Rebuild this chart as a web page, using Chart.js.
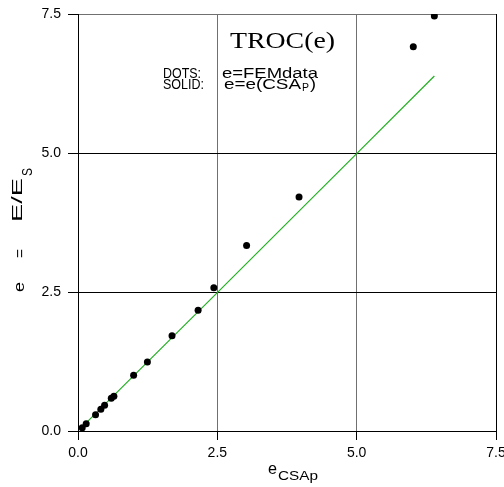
<!DOCTYPE html>
<html>
<head>
<meta charset="utf-8">
<script src="https://cdn.jsdelivr.net/npm/chart.js@4.4.1/dist/chart.umd.min.js"></script>
<style>
  html, body { margin: 0; padding: 0; background: #fff; }
  #wrap { width: 504px; height: 487px; }
</style>
</head>
<body>
<div id="wrap"><canvas id="trocChart"></canvas></div>
<script>
// FEM data points (dots)
const femX = [0.076, 0.147, 0.315, 0.41, 0.477, 0.597, 0.644, 0.998, 1.245, 1.687, 2.155, 2.437, 3.025, 3.966, 6.016, 6.394];
const femY = [0.057, 0.129, 0.291, 0.39, 0.463, 0.589, 0.625, 1.002, 1.243, 1.715, 2.17, 2.578, 3.338, 4.207, 6.912, 7.464];

// e = e(CSA_P) solid line
const csaX = [0.07, 2.5, 5.0, 6.394];
const csaY = [0.07, 2.49, 4.99, 6.385];

const tickValues = [0, 2.5, 5.0, 7.5];

const toPoints = (xs, ys) => xs.map((x, i) => ({ x: x, y: ys[i] }));

// draws text squeezed/stretched to a given width
function wideText(ctx, text, x, y, width) {
  const w = ctx.measureText(text).width;
  ctx.save();
  ctx.translate(x, y);
  ctx.scale(width / w, 1);
  ctx.fillText(text, 0, 0);
  ctx.restore();
}

// vertical text running upward, starting at (x, y)
function upText(ctx, text, x, y, width) {
  ctx.save();
  ctx.translate(x, y);
  ctx.rotate(-Math.PI / 2);
  wideText(ctx, text, 0, 0, width);
  ctx.restore();
}

const labelsPlugin = {
  id: 'trocLabels',
  afterDraw(chart) {
    const ctx = chart.ctx;
    ctx.save();
    ctx.fillStyle = '#000';
    ctx.textAlign = 'left';
    ctx.textBaseline = 'alphabetic';

    // title
    ctx.font = '23px "Liberation Serif"';
    wideText(ctx, 'TROC(e)', 230, 48, 105);

    // legend text
    ctx.font = '14px "Liberation Sans"';
    wideText(ctx, 'DOTS:', 163, 78, 38);
    wideText(ctx, 'e=FEMdata', 222, 78, 96);
    wideText(ctx, 'SOLID:', 163, 89, 41);
    wideText(ctx, 'e=e(CSA', 224, 89, 77);
    wideText(ctx, ')', 310, 89, 6);
    ctx.font = '10px "Liberation Sans"';
    wideText(ctx, 'P', 302, 91, 7);

    // x axis title
    ctx.font = '17px "Liberation Sans"';
    wideText(ctx, 'e', 268, 474, 9);
    ctx.font = '13px "Liberation Sans"';
    wideText(ctx, 'CSAp', 278, 480, 40);

    // y axis title
    ctx.font = '15px "Liberation Sans"';
    upText(ctx, 'e', 24, 292, 10);
    upText(ctx, '=', 25, 258, 9);
    upText(ctx, 'E/E', 22, 222, 44);
    upText(ctx, 'S', 32, 176, 8);
    ctx.restore();
  }
};

const ctx = document.getElementById('trocChart').getContext('2d');
new Chart(ctx, {
  type: 'scatter',
  data: {
    datasets: [
      {
        label: 'e=FEMdata',
        data: toPoints(femX, femY),
        pointRadius: 3.5,
        pointBackgroundColor: '#000',
        pointBorderWidth: 0,
        showLine: false
      },
      {
        label: 'e=e(CSAp)',
        data: toPoints(csaX, csaY),
        showLine: true,
        borderColor: '#22b022',
        borderWidth: 1.2,
        pointRadius: 0,
        order: 1
      }
    ]
  },
  options: {
    responsive: true,
    maintainAspectRatio: false,
    animation: false,
    devicePixelRatio: 1,
    layout: { padding: { top: 14, right: 8, left: 0, bottom: 0 } },
    plugins: {
      legend: { display: false },
      tooltip: { enabled: false }
    },
    scales: {
      x: {
        type: 'linear',
        min: 0,
        max: 7.5,
        afterBuildTicks: axis => { axis.ticks = tickValues.map(v => ({ value: v })); },
        afterFit: axis => {
          axis.height = 56;
          axis.paddingLeft = 0;
          axis.paddingRight = 0;
        },
        ticks: {
          callback: v => v.toFixed(1),
          color: '#000',
          font: { family: 'Liberation Sans', size: 14 },
          padding: 5,
          maxRotation: 0
        },
        grid: {
          color: c => (c.tick.value === 2.5 || c.tick.value === 5) ? '#707070' : '#000',
          tickColor: '#000',
          tickLength: 9,
          lineWidth: 1
        },
        border: { color: '#000', width: 1 }
      },
      y: {
        type: 'linear',
        min: 0,
        max: 7.5,
        afterBuildTicks: axis => { axis.ticks = tickValues.map(v => ({ value: v })); },
        afterFit: axis => {
          axis.width = 78;
          axis.paddingTop = 0;
          axis.paddingBottom = 0;
        },
        ticks: {
          callback: v => v.toFixed(1),
          color: '#000',
          font: { family: 'Liberation Sans', size: 14 },
          padding: 7
        },
        grid: {
          color: c => c.tick.value === 7.5 ? '#707070' : '#000',
          tickColor: '#000',
          tickLength: 10,
          lineWidth: 1
        },
        border: { color: '#000', width: 1 }
      }
    }
  },
  plugins: [labelsPlugin]
});
</script>
</body>
</html>
